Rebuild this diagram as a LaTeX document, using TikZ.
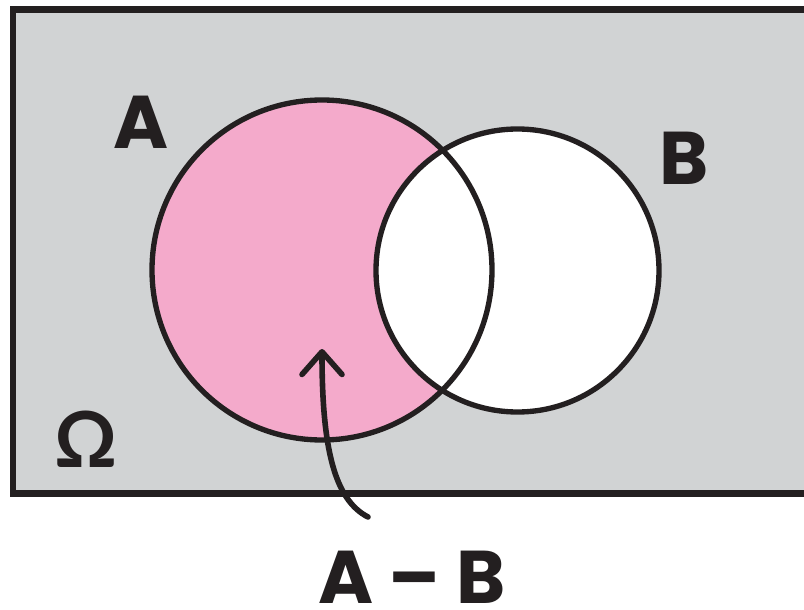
\documentclass[tikz,border=0pt]{standalone}
\usepackage{fontspec}
\usetikzlibrary{arrows.meta}
\newfontfamily\labfont{Poppins}
\newfontfamily\omgfont{Lato}
\definecolor{bggray}{RGB}{209,211,212}
\definecolor{apink}{RGB}{244,170,203}
\definecolor{ink}{RGB}{35,31,32}
\tikzset{
  px/.style={x=0.75pt,y=-0.75pt},
  lab/.style={text=ink,inner sep=0pt,font=\labfont\bfseries\fontsize{56}{56}\selectfont},
  omg/.style={text=ink,inner sep=0pt,font=\omgfont\bfseries\fontsize{58}{58}\selectfont},
  outline/.style={draw=ink,line width=4pt},
  pointer/.style={draw=ink,line width=4.2pt,line cap=round,line join=round,
    -{Straight Barb[length=17pt,width=30pt,line cap=round,line join=round]}}
}
\begin{document}
\begin{tikzpicture}[px]
\useasboundingbox (0,0) rectangle (804,610);
\fill[white] (0,0) rectangle (804,610);
\begin{scope}
\clip (0,0) rectangle (804,610);
\draw[outline,line width=4.6pt,fill=bggray] (13,9.5) rectangle (830,493.5);
\end{scope}
% circles
\coordinate (ca) at (322,270);
\coordinate (cb) at (517.5,270.5);
\fill[apink] (ca) circle[radius=170];
\fill[white] (cb) circle[radius=141.5];
\draw[outline] (ca) circle[radius=170];
\draw[outline] (cb) circle[radius=141.5];
% labels
\node[lab] (la) at (141,122) {A};
\node[lab] (lb) at (684.5,158.5) {B};
\node[omg] (lo) at (86.5,439) {Ω};
\node[lab] (lab) at (412,577) {A – B};
% arrow
\coordinate (tail) at (368,517);
\coordinate (tip) at (322,349);
\draw[pointer] (tail) .. controls (335,500) and (322,450) .. (tip);
\end{tikzpicture}
\end{document}
